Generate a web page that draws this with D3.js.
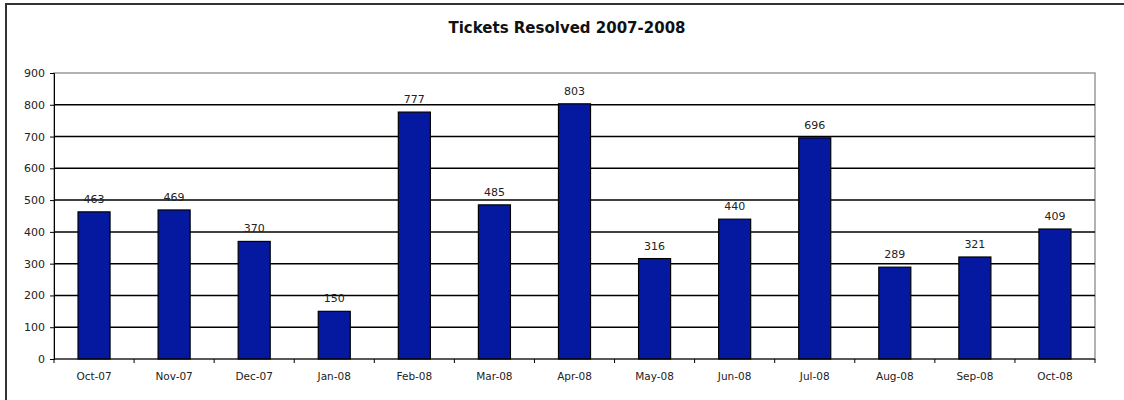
<!DOCTYPE html>
<html><head><meta charset="utf-8">
<script src="https://cdn.jsdelivr.net/npm/d3@7"></script>
<style>body{margin:0;background:#fff}svg{display:block}text{font-family:"DejaVu Sans",sans-serif}</style>
</head><body>
<svg id="c" width="1124" height="400"></svg>
<script>
const categories = ["Oct-07","Nov-07","Dec-07","Jan-08","Feb-08","Mar-08","Apr-08","May-08","Jun-08","Jul-08","Aug-08","Sep-08","Oct-08"];
const values = [463,469,370,150,777,485,803,316,440,696,289,321,409];
const yTicks = [0,100,200,300,400,500,600,700,800,900];
const title = "Tickets Resolved 2007-2008";

const svg = d3.select("#c");
// outer frame
svg.append("rect").attr("x",6).attr("y",4).attr("width",1130).attr("height",410)
  .attr("fill","none").attr("stroke","#333").attr("stroke-width",2);

const m = {left:54, right:1095, top:73, bottom:359};
const x = d3.scaleBand().domain(categories).range([m.left,m.right]).paddingInner(0.6).paddingOuter(0.3);
const y = d3.scaleLinear().domain([0,900]).range([m.bottom,m.top]);

// plot border (right/top grey)
svg.append("rect").attr("x",m.left).attr("y",m.top).attr("width",m.right-m.left).attr("height",m.bottom-m.top)
  .attr("fill","none").attr("stroke","#999").attr("stroke-width",1.5);

// gridlines
svg.append("g").selectAll("line").data(yTicks.filter(d=>d>0&&d<900)).join("line")
  .attr("x1",m.left).attr("x2",m.right).attr("y1",d=>y(d)).attr("y2",d=>y(d))
  .attr("stroke","#000").attr("stroke-width",1.5);

// y axis
const ya = svg.append("g").attr("transform",`translate(${m.left},0)`)
  .call(d3.axisLeft(y).tickValues(yTicks).tickSize(4).tickPadding(5));
ya.select(".domain").attr("stroke","#000");
ya.selectAll("text").attr("font-size",11).attr("fill","#222");

// bars
svg.append("g").selectAll("rect").data(values).join("rect")
  .attr("x",(d,i)=>x(categories[i])).attr("width",x.bandwidth())
  .attr("y",d=>y(d)).attr("height",d=>y(0)-y(d))
  .attr("fill","#0519A0").attr("stroke","#000").attr("stroke-width",1.2);

// value labels
svg.append("g").selectAll("text").data(values).join("text")
  .attr("x",(d,i)=>x(categories[i])+x.bandwidth()/2).attr("y",d=>y(d)-9)
  .attr("text-anchor","middle").attr("font-size",11).attr("fill","#222").text(d=>d);

// x axis with boundary ticks
const step = x.step();
const xa = svg.append("g").attr("transform",`translate(0,${m.bottom})`);
xa.append("line").attr("x1",m.left).attr("x2",m.right).attr("stroke","#000").attr("stroke-width",1.2);
xa.selectAll("line.t").data(d3.range(categories.length+1)).join("line").attr("class","t")
  .attr("x1",i=>m.left+i*step).attr("x2",i=>m.left+i*step).attr("y1",0).attr("y2",4).attr("stroke","#000");
xa.selectAll("text").data(categories).join("text")
  .attr("x",d=>x(d)+x.bandwidth()/2).attr("y",21).attr("text-anchor","middle")
  .attr("font-size",10.5).attr("fill","#222").text(d=>d);

svg.append("text").attr("x",567).attr("y",33).attr("text-anchor","middle")
  .attr("font-size",15).attr("font-weight","bold").attr("fill","#111").text(title);
</script>
</body></html>
